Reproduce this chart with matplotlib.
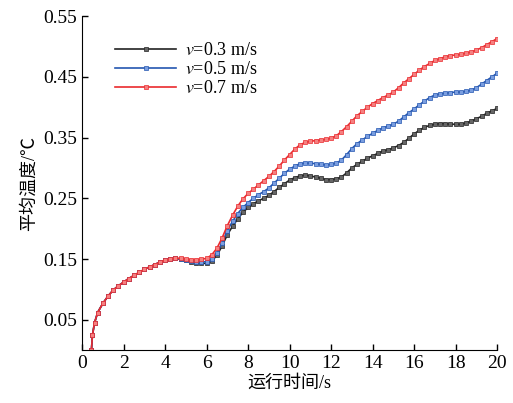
import matplotlib
matplotlib.use("Agg")
import matplotlib.pyplot as plt

plt.rcParams['font.family'] = ['Liberation Serif', 'Noto Sans CJK SC']
plt.rcParams['mathtext.fontset'] = 'stix'

# time (s): a few early samples, then every 0.25 s
t = [0.45, 0.5, 0.6, 0.75] + [1 + 0.25 * i for i in range(77)]

# shared start (0.45 s .. 4.25 s)
start = [0.0, 0.025, 0.045, 0.062, 0.077, 0.089, 0.099, 0.106, 0.112,
         0.118, 0.123, 0.128, 0.133, 0.137, 0.141, 0.145, 0.148, 0.150]

# 4.5 s .. 20 s
v03 = start + [0.151, 0.150, 0.148, 0.146, 0.144, 0.143, 0.143, 0.147, 0.156, 0.172,
               0.190, 0.204, 0.216, 0.227, 0.235, 0.241, 0.246, 0.250, 0.255, 0.261,
               0.268, 0.274, 0.280, 0.284, 0.287, 0.288, 0.287, 0.285, 0.283, 0.281,
               0.281, 0.282, 0.285, 0.292, 0.300, 0.306, 0.311, 0.316, 0.320, 0.324,
               0.328, 0.330, 0.333, 0.337, 0.342, 0.349, 0.356, 0.362, 0.367, 0.370,
               0.372, 0.373, 0.373, 0.372, 0.372, 0.372, 0.374, 0.377, 0.381, 0.385,
               0.390, 0.394, 0.398]
v05 = start + [0.151, 0.150, 0.149, 0.147, 0.146, 0.145, 0.146, 0.150, 0.160, 0.177,
               0.197, 0.212, 0.225, 0.235, 0.243, 0.250, 0.256, 0.261, 0.267, 0.275,
               0.283, 0.291, 0.298, 0.303, 0.307, 0.308, 0.308, 0.307, 0.306, 0.305,
               0.306, 0.308, 0.313, 0.322, 0.332, 0.340, 0.346, 0.352, 0.357, 0.362,
               0.366, 0.369, 0.372, 0.377, 0.384, 0.391, 0.397, 0.404, 0.410, 0.416,
               0.420, 0.422, 0.423, 0.424, 0.425, 0.425, 0.426, 0.428, 0.432, 0.438,
               0.444, 0.450, 0.456]
v07 = start + [0.152, 0.151, 0.150, 0.149, 0.149, 0.150, 0.151, 0.157, 0.168, 0.185,
               0.205, 0.222, 0.237, 0.249, 0.258, 0.265, 0.272, 0.279, 0.286, 0.294,
               0.303, 0.313, 0.322, 0.331, 0.338, 0.342, 0.344, 0.345, 0.346, 0.347,
               0.349, 0.353, 0.360, 0.368, 0.377, 0.386, 0.393, 0.400, 0.406, 0.411,
               0.416, 0.420, 0.425, 0.432, 0.440, 0.447, 0.454, 0.461, 0.467, 0.472,
               0.477, 0.480, 0.483, 0.485, 0.486, 0.487, 0.489, 0.491, 0.494, 0.498,
               0.503, 0.508, 0.513]

series = [(v03, '#222222', '#666666', '$v$=0.3 m/s'),
          (v05, '#2456b0', '#7a9ee0', '$v$=0.5 m/s'),
          (v07, '#ea2a2e', '#f58080', '$v$=0.7 m/s')]

fig = plt.figure(figsize=(5.13, 4.03), dpi=100)
ax = fig.add_axes([0.16, 0.131, 0.809, 0.829])

for vals, c, fc, lab in series:
    ax.plot(t, vals, '-', color=c, lw=1.2, marker='s', ms=2.6,
            mfc=fc, mec=c, mew=0.5, label=lab)

ax.set_xlim(0, 20)
ax.set_ylim(0, 0.55)
ax.set_xticks(range(0, 21, 2))
ax.set_yticks([0.05, 0.15, 0.25, 0.35, 0.45, 0.55])
ax.set_yticklabels(['0.05', '0.15', '0.25', '0.35', '0.45', '0.55'])
ax.tick_params(direction='in', length=4, labelsize=14, width=1)
ax.spines['top'].set_visible(False)
ax.spines['right'].set_visible(False)
ax.set_xlabel('运行时间/s', fontsize=13, labelpad=2)
ax.set_ylabel('平均温度/℃', fontsize=13, labelpad=4)

ax.legend(loc='upper left', bbox_to_anchor=(0.04, 0.97), frameon=False,
          fontsize=13, handlelength=3.4, labelspacing=0.1, handletextpad=0.5)

fig.savefig('out.png', dpi=100)
